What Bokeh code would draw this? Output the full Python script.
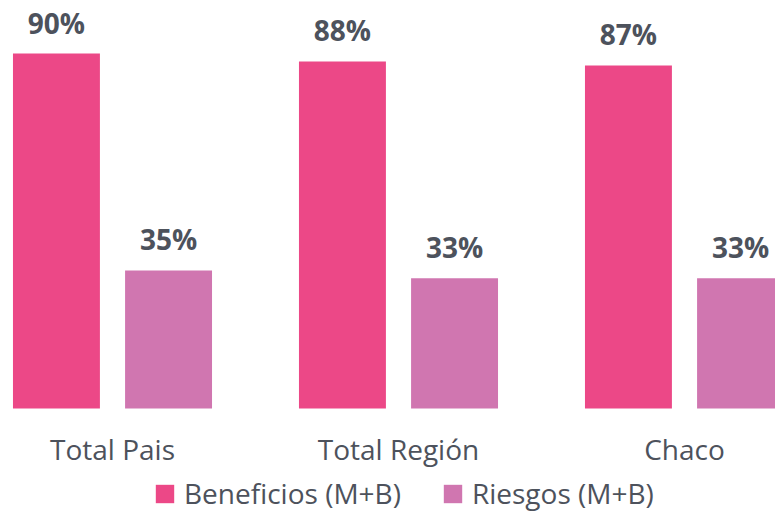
from bokeh.plotting import figure
from bokeh.models import ColumnDataSource, Legend, LegendItem, FixedTicker, LabelSet
from bokeh.core.properties import value
from bokeh.embed import file_html
from bokeh.resources import INLINE

categories = ["Total Pais", "Total Región", "Chaco"]
beneficios = [90, 88, 87]
riesgos = [35, 33, 33]
series_names = ["Beneficios (M+B)", "Riesgos (M+B)"]
colors = ["#EC4887", "#D076B0"]
text_color = "#4D525C"

idx = list(range(len(categories)))
offset = 0.196
bar_w = 0.304

p = figure(width=775, height=512,
           x_range=(-0.3916, 2.3182), y_range=(-26.37, 103.45),
           output_backend="svg", toolbar_location=None, min_border=0)

src_b = ColumnDataSource(dict(x=[i - offset for i in idx], top=beneficios,
                              lab=[f"{v}%" for v in beneficios]))
src_r = ColumnDataSource(dict(x=[i + offset for i in idx], top=riesgos,
                              lab=[f"{v}%" for v in riesgos]))

rb = p.vbar(x="x", top="top", bottom=0, width=bar_w, source=src_b, fill_color=colors[0], line_color=None)
rr = p.vbar(x="x", top="top", bottom=0, width=bar_w, source=src_r, fill_color=colors[1], line_color=None)

for src in (src_b, src_r):
    p.add_layout(LabelSet(x="x", y="top", text="lab", source=src, text_align="center",
                          text_baseline="alphabetic", y_offset=20,
                          text_font=value("Open Sans"), text_font_style="bold",
                          text_font_size="28px", text_color=text_color))

p.xaxis.fixed_location = 0
p.xaxis.ticker = FixedTicker(ticks=idx)
p.xaxis.major_label_overrides = {i: c for i, c in zip(idx, categories)}
p.xaxis.axis_line_color = None
p.xaxis.major_tick_line_color = None
p.xaxis.minor_tick_line_color = None
p.xaxis.major_tick_out = 0
p.xaxis.major_tick_in = 0
p.xaxis.major_label_standoff = 22
p.xaxis.major_label_text_font = "Open Sans"
p.xaxis.major_label_text_font_size = "28px"
p.xaxis.major_label_text_color = text_color
p.yaxis.visible = False
p.xgrid.grid_line_color = None
p.ygrid.grid_line_color = None
p.outline_line_color = None

legend = Legend(items=[LegendItem(label=series_names[0], renderers=[rb]),
                       LegendItem(label=series_names[1], renderers=[rr])],
                orientation="horizontal", location=(153, 0),
                glyph_width=23, glyph_height=23, label_standoff=8, spacing=40,
                padding=0, margin=0, border_line_color=None, background_fill_alpha=0,
                label_text_font="Open Sans", label_text_font_size="28px",
                label_text_color=text_color)
p.add_layout(legend)

open("out.html", "w").write(file_html(p, INLINE))
